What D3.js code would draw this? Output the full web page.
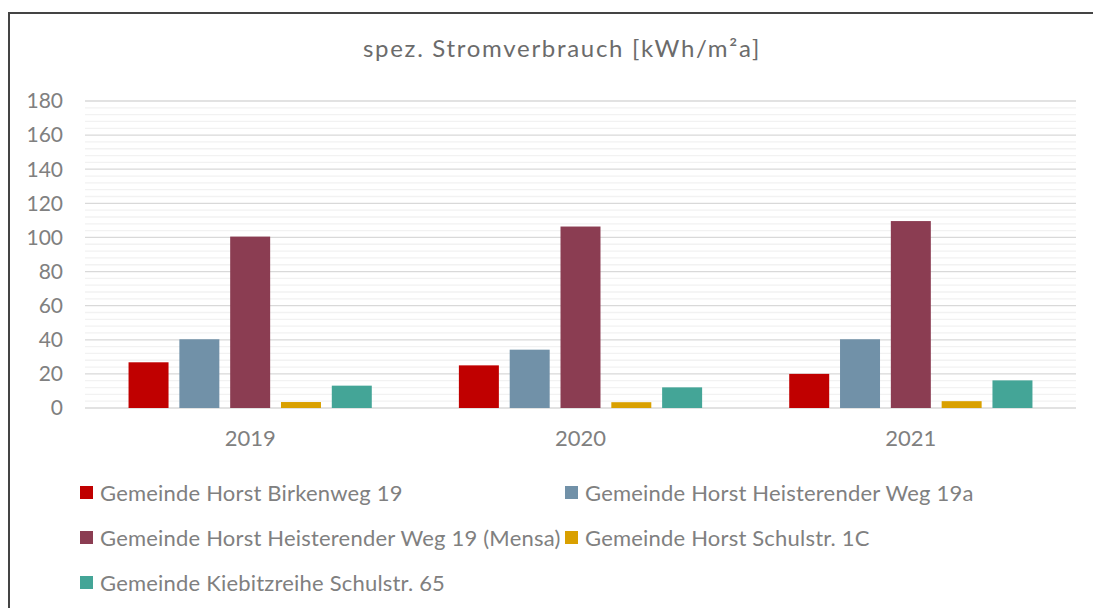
<!DOCTYPE html>
<html>
<head>
<meta charset="utf-8">
<script src="https://cdn.jsdelivr.net/npm/d3@7"></script>
<style>
  body { margin: 0; background: #fff; }
  svg { display: block; font-family: Lato, "Open Sans", sans-serif; }
</style>
</head>
<body>
<svg width="1093" height="608"></svg>
<script>
var TITLE = 'spez. Stromverbrauch [kWh/m²a]';
var YEARS = ['2019', '2020', '2021'];
var SERIES = [
  'Gemeinde Horst Birkenweg 19',
  'Gemeinde Horst Heisterender Weg 19a',
  'Gemeinde Horst Heisterender Weg 19 (Mensa)',
  'Gemeinde Horst Schulstr. 1C',
  'Gemeinde Kiebitzreihe Schulstr. 65'
];
var COLORS = ['#c00000', '#7191a8', '#8b3d52', '#d9a000', '#44a597'];
// values per series, one per year
var BIRKENWEG = [26.8, 25, 20];
var HEISTERENDER = [40.3, 34.2, 40.3];
var MENSA = [100.5, 106.4, 109.6];
var SCHULSTR_1C = [3.5, 3.4, 4];
var KIEBITZREIHE = [13.1, 12.1, 16.2];
var VALUES = [BIRKENWEG, HEISTERENDER, MENSA, SCHULSTR_1C, KIEBITZREIHE];
var Y_TICKS = [0, 20, 40, 60, 80, 100, 120, 140, 160, 180];

var TEXT_COLOR = '#808080';
var svg = d3.select('svg');

// outer frame (only left and top visible in the crop)
svg.append('path')
  .attr('d', 'M9,620 V13 H1100')
  .attr('fill', 'none')
  .attr('stroke', '#444')
  .attr('stroke-width', 2);

svg.append('text')
  .attr('x', 562)
  .attr('y', 57)
  .attr('text-anchor', 'middle')
  .attr('fill', '#6b6b6b')
  .style('font-size', '24px')
  .style('letter-spacing', '1.7px')
  .text(TITLE);

var x0 = d3.scaleBand().domain(YEARS).range([85, 1076]);
var x1 = d3.scaleBand().domain(d3.range(SERIES.length))
  .range([0, x0.bandwidth()])
  .paddingInner(0.213)
  .paddingOuter(0.857);
var y = d3.scaleLinear().domain([0, 180]).range([408, 101]);

// minor gridlines every 4
svg.append('g').selectAll('line')
  .data(d3.range(4, 180, 4).filter(function (v) { return v % 20 !== 0; }))
  .join('line')
  .attr('x1', 85).attr('x2', 1076)
  .attr('y1', function (d) { return y(d); })
  .attr('y2', function (d) { return y(d); })
  .attr('stroke', '#f2f2f2')
  .attr('stroke-width', 1.3);

// major gridlines
svg.append('g').selectAll('line')
  .data(Y_TICKS)
  .join('line')
  .attr('x1', 85).attr('x2', 1076)
  .attr('y1', function (d) { return y(d); })
  .attr('y2', function (d) { return y(d); })
  .attr('stroke', '#d9d9d9')
  .attr('stroke-width', 1.3);

// y tick labels
svg.append('g').selectAll('text')
  .data(Y_TICKS)
  .join('text')
  .attr('x', 63)
  .attr('y', function (d) { return y(d); })
  .attr('dy', '0.35em')
  .attr('text-anchor', 'end')
  .attr('fill', TEXT_COLOR)
  .style('font-size', '21px')
  .text(function (d) { return d; });

// bars
var groups = svg.append('g').selectAll('g')
  .data(YEARS)
  .join('g')
  .attr('transform', function (d) { return 'translate(' + x0(d) + ',0)'; });

groups.selectAll('rect')
  .data(function (yr, i) {
    return VALUES.map(function (vals, s) { return { s: s, v: vals[i] }; });
  })
  .join('rect')
  .attr('x', function (d) { return x1(d.s); })
  .attr('width', x1.bandwidth())
  .attr('y', function (d) { return y(d.v); })
  .attr('height', function (d) { return y(0) - y(d.v); })
  .attr('fill', function (d) { return COLORS[d.s]; });

// x labels
svg.append('g').selectAll('text')
  .data(YEARS)
  .join('text')
  .attr('x', function (d) { return x0(d) + x0.bandwidth() / 2; })
  .attr('y', 446)
  .attr('text-anchor', 'middle')
  .attr('fill', TEXT_COLOR)
  .style('font-size', '22px')
  .text(function (d) { return d; });

// legend
var legendPos = [[80, 493], [565, 493], [80, 538], [565, 538], [80, 583]];
var legend = svg.append('g').selectAll('g')
  .data(SERIES)
  .join('g')
  .attr('transform', function (d, i) { return 'translate(' + legendPos[i][0] + ',' + legendPos[i][1] + ')'; });

legend.append('rect')
  .attr('x', 0).attr('y', -7)
  .attr('width', 13).attr('height', 13)
  .attr('fill', function (d, i) { return COLORS[i]; });

legend.append('text')
  .attr('x', 20)
  .attr('dy', '0.35em')
  .attr('fill', TEXT_COLOR)
  .style('font-size', '22px')
  .style('letter-spacing', '0.2px')
  .text(function (d) { return d; });
</script>
</body>
</html>
